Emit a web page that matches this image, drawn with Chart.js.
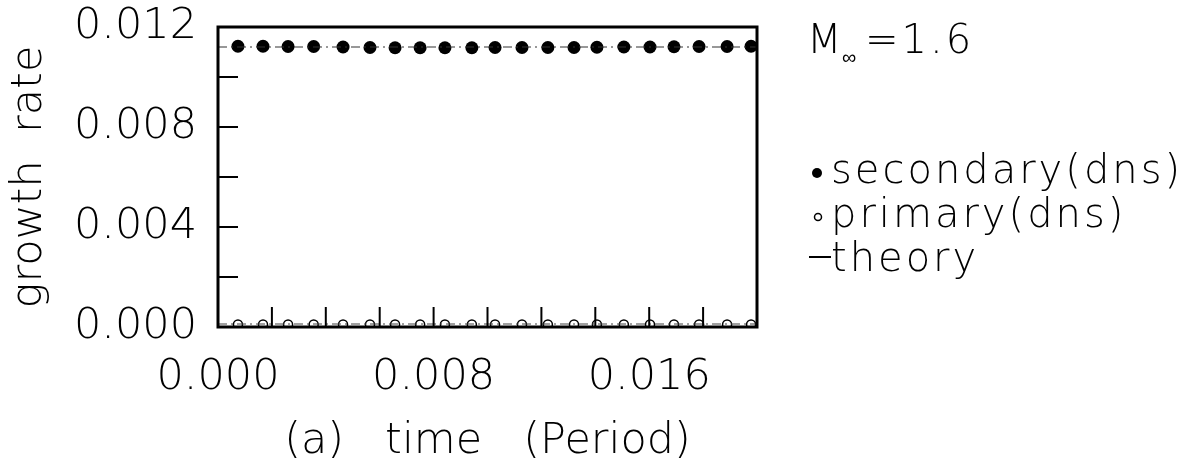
<!DOCTYPE html>
<html>
<head>
<meta charset="utf-8">
<script src="https://cdn.jsdelivr.net/npm/chart.js@4"></script>
<style>
  html, body { margin: 0; padding: 0; background: #fff; }
</style>
</head>
<body>
<canvas id="growthChart" width="1200" height="468"></canvas>
<script>
// values
const times = [0.00074, 0.00167, 0.00260, 0.00355, 0.00464, 0.00564, 0.00657, 0.00750, 0.00842, 0.00942, 0.01028,
               0.01128, 0.01224, 0.01321, 0.01406, 0.01506, 0.01603, 0.01692, 0.01785, 0.01889, 0.01978];
const secondaryRate = [0.01123, 0.01123, 0.01122, 0.01122, 0.01120, 0.01118, 0.01117, 0.01117, 0.01117, 0.01117, 0.01118,
                       0.01118, 0.01118, 0.01118, 0.01119, 0.01120, 0.01120, 0.01121, 0.01122, 0.01122, 0.01123];
const primaryRate = [0.0001, 0.0001, 0.0001, 0.0001, 0.0001, 0.0001, 0.0001, 0.0001, 0.0001, 0.0001, 0.0001,
                     0.0001, 0.0001, 0.0001, 0.0001, 0.0001, 0.0001, 0.0001, 0.0001, 0.0001, 0.0001];
const theoryTimes = [0, 0.02];
const theorySecondary = [0.01120, 0.01120];
const theoryPrimary = [0.00012, 0.00012];
const xTickLabels = ["0.000", "0.008", "0.016"];
const yTickLabels = ["0.000", "0.004", "0.008", "0.012"];
const legendLabels = ["secondary(dns)", "primary(dns)", "theory"];
const machLabel = "1.6";

const FAMILY = "'DejaVu Sans', 'Liberation Sans', sans-serif";
Chart.defaults.font.family = FAMILY;
Chart.defaults.font.weight = "200";
Chart.defaults.color = "#000";

function pts(xs, ys) {
    return xs.map((x, i) => ({ x: x, y: ys[i] }));
}

function line(ctx, x1, y1, x2, y2) {
    ctx.beginPath();
    ctx.moveTo(x1, y1);
    ctx.lineTo(x2, y2);
    ctx.stroke();
}

// inside ticks, heavy frame, Mach number and the key on the right
const framePlugin = {
    id: "frame",
    afterDraw(chart) {
        const { ctx, chartArea: a, scales: { x, y } } = chart;
        ctx.save();
        ctx.strokeStyle = "#000";
        ctx.fillStyle = "#000";
        ctx.lineWidth = 2;
        x.ticks.forEach(t => {
            const px = x.getPixelForValue(t.value);
            if (px > a.left + 2 && px < a.right - 2) line(ctx, px, a.bottom, px, a.bottom - 20);
        });
        y.ticks.forEach(t => {
            const py = y.getPixelForValue(t.value);
            if (py > a.top + 2 && py < a.bottom - 2) line(ctx, a.left, py, a.left + 20, py);
        });
        ctx.lineWidth = 3;
        ctx.strokeRect(a.left, a.top, a.right - a.left, a.bottom - a.top);

        const lx = a.right + 50;
        ctx.textAlign = "left";
        ctx.textBaseline = "alphabetic";
        ctx.letterSpacing = "3px";
        ctx.font = "200 40px " + FAMILY;
        ctx.fillText("M", lx, 53);
        ctx.font = "200 20px " + FAMILY;
        ctx.fillText("\u221e", lx + 35, 64);
        ctx.font = "200 40px " + FAMILY;
        ctx.fillText("=" + machLabel, lx + 58, 53);

        const rows = [183, 227, 271];
        legendLabels.forEach((label, i) => ctx.fillText(label, lx + 24, rows[i]));
        ctx.beginPath();
        ctx.arc(lx + 10, 173, 5, 0, Math.PI * 2);
        ctx.fill();
        ctx.lineWidth = 1.5;
        ctx.beginPath();
        ctx.arc(lx + 11, 217, 3.5, 0, Math.PI * 2);
        ctx.stroke();
        ctx.lineWidth = 2;
        line(ctx, lx + 2, 257, lx + 24, 257);
        ctx.restore();
    }
};

new Chart("growthChart", {
    type: "scatter",
    data: {
        datasets: [
            {
                label: legendLabels[2],
                data: pts(theoryTimes, theorySecondary),
                showLine: true,
                borderColor: "#333",
                borderWidth: 1.2,
                borderDash: [9, 4, 2, 4],
                pointRadius: 0
            },
            {
                label: legendLabels[2],
                data: pts(theoryTimes, theoryPrimary),
                showLine: true,
                borderColor: "#444",
                borderWidth: 1.2,
                borderDash: [9, 4, 2, 4],
                pointRadius: 0
            },
            {
                label: legendLabels[0],
                data: pts(times, secondaryRate),
                pointRadius: 6.5,
                pointBackgroundColor: "#000",
                pointBorderColor: "#000",
                pointBorderWidth: 0
            },
            {
                label: legendLabels[1],
                data: pts(times, primaryRate),
                pointRadius: 4.5,
                pointBackgroundColor: "#fff",
                pointBorderColor: "#000",
                pointBorderWidth: 1.5
            }
        ]
    },
    options: {
        responsive: false,
        animation: false,
        events: [],
        layout: { padding: { left: 0, top: 27, right: 443, bottom: 0 } },
        plugins: { legend: { display: false }, tooltip: { enabled: false } },
        scales: {
            x: {
                type: "linear",
                min: 0,
                max: 0.02,
                grid: { display: false, drawTicks: false },
                border: { display: false },
                ticks: {
                    stepSize: 0.002,
                    autoSkip: false,
                    maxRotation: 0,
                    padding: 25,
                    font: { size: 43 },
                    callback: v => xTickLabels.includes(v.toFixed(3)) ? v.toFixed(3) : ""
                },
                title: { display: true, text: "(a)   time   (Period)", font: { size: 43 }, padding: { top: 0, bottom: 0 } },
                afterFit(scale) {
                    scale.height = 141;
                    scale.paddingLeft = 0;
                    scale.paddingRight = 0;
                }
            },
            y: {
                type: "linear",
                min: 0,
                max: 0.012,
                grid: { display: false, drawTicks: false },
                border: { display: false },
                ticks: {
                    stepSize: 0.002,
                    autoSkip: false,
                    padding: 21,
                    font: { size: 43 },
                    callback: v => yTickLabels.includes(v.toFixed(3)) ? v.toFixed(3) : ""
                },
                title: { display: true, text: "growth  rate", font: { size: 43 }, padding: { top: 4, bottom: 0 } },
                afterFit(scale) {
                    scale.width = 218;
                    scale.paddingTop = 0;
                    scale.paddingBottom = 0;
                }
            }
        }
    },
    plugins: [framePlugin]
});
</script>
</body>
</html>
